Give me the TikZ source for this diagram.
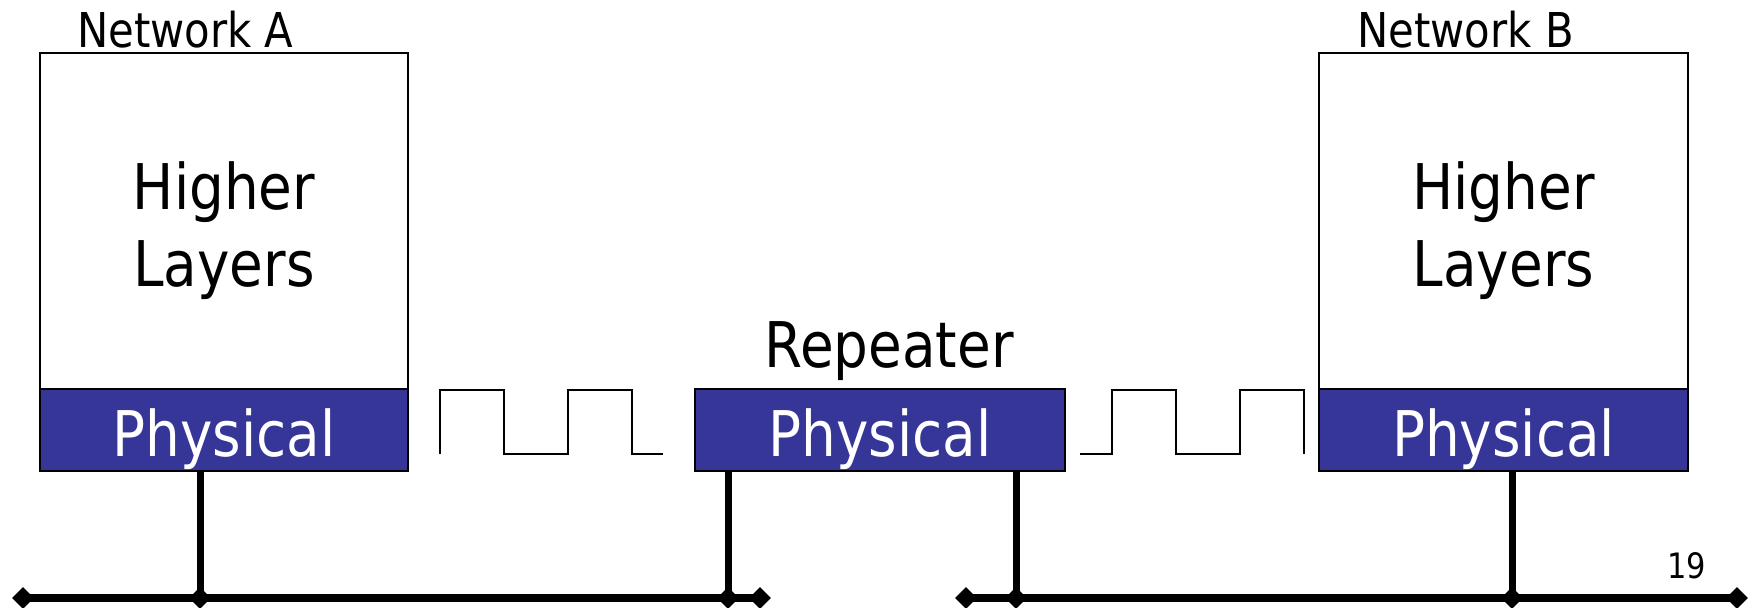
\documentclass[tikz,border=0pt]{standalone}
\usepackage{fontspec}
\setmainfont{DejaVu Sans}[FakeStretch=0.87]
\usetikzlibrary{shapes.geometric}
\definecolor{phyblue}{RGB}{54,53,152}

\begin{document}
\begin{tikzpicture}[x=0.5pt,y=-0.5pt,
  layerbox/.style={draw=black, line width=0.9pt, fill=white, rectangle,
    inner sep=0pt, outer sep=0pt, anchor=north west},
  layertext/.style={anchor=base, inner sep=0pt,
    font=\fontsize{31.5}{34}\selectfont},
  physbox/.style={draw=black, line width=0.9pt, fill=phyblue, text=white,
    rectangle, inner sep=0pt, outer sep=0pt, anchor=north west,
    minimum height=41pt, text height=26pt, text depth=0pt,
    font=\fontsize{31.5}{34}\selectfont},
  netlabel/.style={anchor=base west, inner sep=0pt,
    font=\fontsize{24}{27}\selectfont},
  stem/.style={line width=3.5pt},
  bus/.style={line width=4pt},
  tap/.style={diamond, fill=black, inner sep=0pt,
    minimum width=11pt, minimum height=11pt},
  wave/.style={line width=1.2pt, line join=miter}
]
\useasboundingbox (0,0) rectangle (1756,607);

% Network A station
\node[layerbox, minimum width=184pt, minimum height=168pt] (hlA) at (40,53) {};
\node[layertext] (hlA1) at (224,209) {Higher};
\node[layertext] (hlA2) at (224,286) {Layers};
\node[physbox, minimum width=184pt] (phA) at (40,389) {Physical};
\node[netlabel] (netA) at (77,47) {Network A};

% Repeater
\node[physbox, minimum width=185pt] (phR) at (695,389) {Physical};
\node[layertext] (rep) at (889,367) {Repeater};

% Network B station
\node[layerbox, minimum width=184.5pt, minimum height=168pt] (hlB) at (1319,53) {};
\node[layertext] (hlB1) at (1503.5,209) {Higher};
\node[layertext] (hlB2) at (1503.5,286) {Layers};
\node[physbox, minimum width=184.5pt] (phB) at (1319,389) {Physical};
\node[netlabel] (netB) at (1357,47) {Network B};

% page number
\node[anchor=base west, inner sep=0pt, font=\fontsize{17.5}{20}\selectfont] (pg) at (1667,578) {19};

% bus taps and ends
\node[tap] (a0) at (23,598) {};
\node[tap] (a1) at (200,598) {};
\node[tap] (a2) at (728,598) {};
\node[tap] (a3) at (760,598) {};
\node[tap] (b0) at (966,598) {};
\node[tap] (b1) at (1016,598) {};
\node[tap] (b2) at (1512,598) {};
\node[tap] (b3) at (1737,598) {};

% cables
\draw[bus] (a0.center) -- (a3.center);
\draw[bus] (b0.center) -- (b3.center);

% drop lines to the cables
\draw[stem] (a1.center |- phA.south) -- (a1.center);
\draw[stem] (a2.center |- phR.south) -- (a2.center);
\draw[stem] (b1.center |- phR.south) -- (b1.center);
\draw[stem] (b2.center |- phB.south) -- (b2.center);

% signal waveforms
\draw[wave] (440,454) -- (440,390) -- (504,390) -- (504,454) -- (568,454)
  -- (568,390) -- (632,390) -- (632,454) -- (663,454);
\draw[wave] (1080,454) -- (1112,454) -- (1112,390) -- (1176,390) -- (1176,454)
  -- (1240,454) -- (1240,390) -- (1304,390) -- (1304,454);
\end{tikzpicture}
\end{document}
